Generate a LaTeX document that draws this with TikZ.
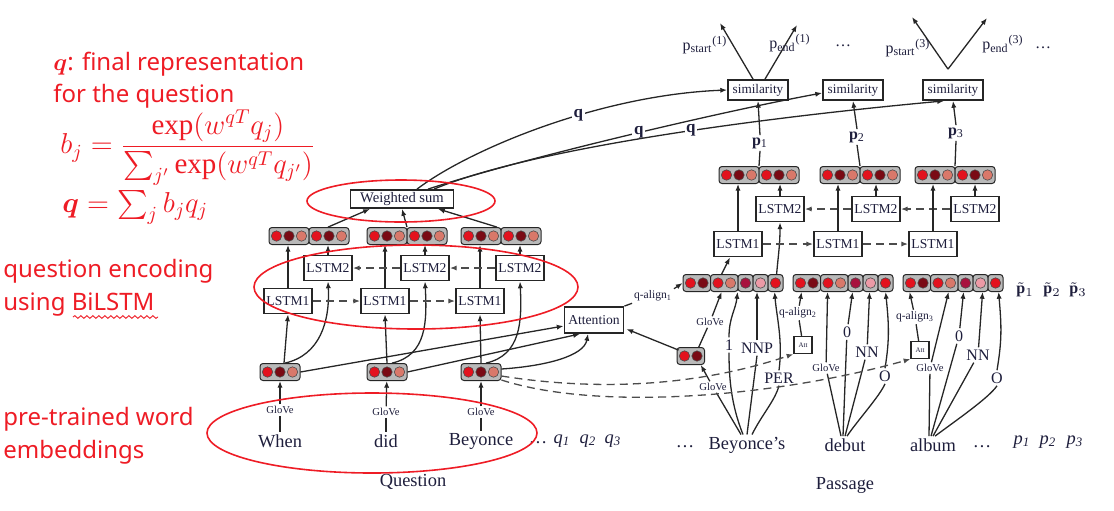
\documentclass[tikz,border=0pt]{standalone}
\usepackage{amsmath}
\usepackage{amssymb}
\usepackage{bm}
\usepackage{fontspec}
\setmainfont{Liberation Serif}
\newfontfamily\annfont{Noto Sans}
\usetikzlibrary{positioning}
\usetikzlibrary{calc}
\usetikzlibrary{fit}
\usetikzlibrary{arrows.meta}
\usetikzlibrary{decorations.pathmorphing}

\definecolor{cred}{HTML}{E3121E}
\definecolor{cdark}{HTML}{7A0A14}
\definecolor{csalm}{HTML}{D9786A}
\definecolor{ccrim}{HTML}{A8123E}
\definecolor{cpink}{HTML}{EC9AA6}
\definecolor{ink}{HTML}{1E1E3C}
\definecolor{annred}{HTML}{EE1C25}

% row of coloured cells: name, left x, centre y, frames
\newcommand{\cellrow}[4]{%
  \xdef\xcur{#2}%
  \foreach \frm in {#4}{%
    \xdef\nc{0}%
    \foreach \clr in \frm {\pgfmathtruncatemacro\ncn{\nc+1}\xdef\nc{\ncn}}%
    \pgfmathsetmacro\xb{\xcur+\nc*12.5+2.5}%
    \path[cellframe] (\xcur,#3-8.5) rectangle (\xb,#3+8.5);
    \foreach \clr [count=\i] in \frm {%
      \path[cell, fill=\clr] ({\xcur+1.25+(\i-0.5)*12.5},#3) circle (5.2);}%
    \xdef\xcur{\xb}%
  }%
  \node[fit={(#2,#3-8.5) (\xcur,#3+8.5)}, inner sep=0pt] (#1) {};%
}

\begin{document}
\begin{tikzpicture}[x=0.5pt, y=-0.5pt,
    >={Latex[length=3.4pt,width=2.6pt]},
    lnk/.style={draw=black!85, line width=0.65pt},
    dsh/.style={lnk, draw=black!70, dash pattern=on 4pt off 2.6pt},
    cellframe/.style={draw=black!85, fill=gray!55, line width=0.5pt, rounded corners=1.5pt},
    cell/.style={draw=black!70, line width=0.3pt},
    box/.style={draw=black!85, line width=0.9pt, fill=white, inner sep=1pt, text=ink},
    lstm/.style={box, minimum width=24pt, minimum height=12.5pt, font=\fontsize{6.8}{7}\selectfont},
    simbox/.style={box, minimum width=30pt, minimum height=10pt, font=\fontsize{6.6}{7}\selectfont},
    attbox/.style={box, line width=0.6pt, minimum width=9pt, minimum height=8.5pt, inner sep=0.5pt, font=\fontsize{3.5}{4}\selectfont},
    wordlab/.style={inner sep=1pt, text=ink, font=\fontsize{9.2}{10}\selectfont},
    glovelab/.style={inner sep=0.8pt, fill=white, text=ink, font=\fontsize{5.3}{6}\selectfont},
    alignlab/.style={inner sep=0.8pt, text=ink, font=\fontsize{5.8}{6}\selectfont},
    featlab/.style={inner sep=1pt, fill=white, text=ink, font=\fontsize{8}{9}\selectfont},
    plab/.style={inner sep=1pt, text=ink, font=\fontsize{8}{9}\selectfont},
    qlab/.style={inner sep=0.8pt, fill=white, text=ink, font=\fontsize{8.5}{9}\selectfont\bfseries},
    ann/.style={inner sep=0pt, text=annred, font=\annfont\fontsize{12}{14}\selectfont},
    annmath/.style={inner sep=0pt, text=annred, font=\fontsize{14.5}{16}\selectfont},
    ring/.style={draw=annred, line width=0.8pt}]

    \useasboundingbox (0,0) rectangle (1114,510);

    % red notes on the left
    \node[ann, anchor=base west] (ann1) at (53,70) {$\bm{q}$: final representation};
    \node[ann, anchor=base west] (ann2) at (53,102) {for the question};
    \node[annmath, anchor=west] (eqb) at (60,148) {$b_j=\dfrac{\exp(w^{qT}q_j)}{\sum_{j'}\exp(w^{qT}q_{j'})}$};
    \node[annmath, anchor=base west] (eqq) at (62,212) {$\bm{q}=\sum_j b_j q_j$};
    \node[ann, anchor=base west] (ann3) at (3,277) {question encoding};
    \node[ann, anchor=base west] (ann4) at (3,310) {using BiLSTM};
    \draw[annred, line width=0.45pt, decorate, decoration={snake, amplitude=0.7pt, segment length=3pt}] (73,317) -- (158,317);
    \node[ann, anchor=base west] (ann5) at (3,425) {pre-trained word};
    \node[ann, anchor=base west] (ann6) at (3,458) {embeddings};

    % question side
    \node[wordlab] (qw1) at (280,441) {When};
    \node[wordlab] (qw2) at (386,441) {did};
    \node[wordlab] (qw3) at (481,441) {Beyonce};
    \node[wordlab] (qdots) at (538,443) {\dots};
    \node[wordlab] (qq1) at (562,441) {\textit{q}\textsubscript{\textit{1}}};
    \node[wordlab] (qq2) at (588,441) {\textit{q}\textsubscript{\textit{2}}};
    \node[wordlab] (qq3) at (613,441) {\textit{q}\textsubscript{\textit{3}}};
    \node[wordlab] (qcap) at (413,482) {Question};

    \node[glovelab] (qg1) at (280,410) {GloVe};
    \node[glovelab] (qg2) at (386,412) {GloVe};
    \node[glovelab] (qg3) at (481,412) {GloVe};

    \cellrow{qe1}{260}{372}{{cred,cdark,csalm}}
    \cellrow{qe2}{367}{372}{{cred,cdark,csalm}}
    \cellrow{qe3}{461}{372}{{cred,cdark,csalm}}

    \node[lstm] (qf1) at (288,301) {LSTM1};
    \node[lstm] (qf2) at (385,301) {LSTM1};
    \node[lstm] (qf3) at (480,301) {LSTM1};
    \node[lstm] (qb1) at (328,268) {LSTM2};
    \node[lstm] (qb2) at (425,268) {LSTM2};
    \node[lstm] (qb3) at (520,268) {LSTM2};

    \cellrow{qo1}{269}{236}{{cred,cdark,csalm},{cred,cdark,csalm}}
    \cellrow{qo2}{367}{236}{{cred,cdark,csalm},{cred,cdark,csalm}}
    \cellrow{qo3}{461}{236}{{cred,cdark,csalm},{cred,cdark,csalm}}

    \node[box, minimum width=51.5pt, minimum height=9pt, font=\fontsize{7.3}{8}\selectfont] (ws) at (402,199) {Weighted sum};
    \node[box, minimum width=29.5pt, minimum height=13pt, font=\fontsize{6.8}{7}\selectfont] (att) at (594,320) {Attention};

    \foreach \n in {1,2,3} {
        \draw[lnk] (qg\n) -- (qw\n);
        \draw[lnk,->] (qg\n) -- (qe\n);
        \draw[lnk,->] (qf\n.north) -- (qf\n.north |- qo\n.south);
        \draw[lnk,->] (qb\n.north) -- (qb\n.north |- qo\n.south);
        \draw[lnk,->] ($(qe\n.north)+(5,0)$) .. controls +(35,-8) and +(2,40) .. (qb\n.south);
    }
    \draw[lnk,->] ($(qe1.north)+(4,0)$) -- (qf1.south);
    \draw[lnk,->] (qe2.north) -- (qf2.south);
    \draw[lnk,->] (qe3.north) -- (qf3.south);

    \draw[dsh,->] (qf1) -- (qf2);
    \draw[dsh,->] (qf2) -- (qf3);
    \draw[dsh,->] (qb3) -- (qb2);
    \draw[dsh,->] (qb2) -- (qb1);

    \draw[lnk,->] ($(qo1.north)+(19,0)$) -- ($(ws.south)+(-32,0)$);
    \draw[lnk,->] (qo2.north) -- (ws.south);
    \draw[lnk,->] ($(qo3.north)+(-4,0)$) -- ($(ws.south)+(36,0)$);

    \draw[lnk,->] (qe1.east) -- ($(att.west)+(0,6)$);
    \draw[lnk,->] (qe2.east) -- ($(att.south)+(-14,0)$);
    \draw[lnk,->] ($(qe3.east)+(0,-3)$) .. controls +(45,-3) and +(-4,22) .. ($(att.south)+(-6,0)$);

    % passage side
    \node[wordlab] (pdots0) at (685,447) {\dots};
    \node[wordlab] (pw1) at (747,445) {Beyonce's};
    \node[wordlab] (pw2) at (845,445) {debut};
    \node[wordlab] (pw3) at (933,445) {album};
    \node[wordlab] (pdots1) at (982,447) {\dots};
    \node[wordlab] (pp1) at (1022,442) {\textit{p}\textsubscript{\textit{1}}};
    \node[wordlab] (pp2) at (1048,442) {\textit{p}\textsubscript{\textit{2}}};
    \node[wordlab] (pp3) at (1075,442) {\textit{p}\textsubscript{\textit{3}}};
    \node[wordlab] (pcap) at (845,485) {Passage};

    \cellrow{pe}{677}{356}{{cred,cdark}}
    \cellrow{pv1}{683}{283}{{cred,cdark},{cred,csalm},{ccrim},{cpink},{cred}}
    \cellrow{pv2}{793}{283}{{cred,cdark},{cred,csalm},{ccrim},{cpink},{cred}}
    \cellrow{pv3}{903}{283}{{cred,cdark},{cred,csalm},{ccrim},{cpink},{cred}}

    \node[plab] (pt1) at (1025,290) {$\tilde{\mathbf{p}}_1$};
    \node[plab] (pt2) at (1052,290) {$\tilde{\mathbf{p}}_2$};
    \node[plab] (pt3) at (1078,290) {$\tilde{\mathbf{p}}_3$};

    \draw[lnk,->] ($(pe.north west)+(2,3)$) -- ($(att.east)+(2,9)$);
    \node[alignlab] (qa1) at (653,296) {q-align\textsubscript{1}};
    \draw[lnk] (att.north east) -- (qa1.south west);
    \draw[lnk,->] (qa1.north east) -- (pv1.west);

    % Beyonce's
    \node[glovelab] (bg1) at (713,387) {GloVe};
    \draw[lnk] ($(pw1.north)+(-6,0)$) -- (bg1);
    \draw[lnk,->] (bg1) -- ($(pe.south)+(10,0)$);
    \node[glovelab] (bg2) at (710,322) {GloVe};
    \draw[lnk] ($(pe.north)+(8,0)$) -- (bg2);
    \draw[lnk,->] (bg2) -- ($(pv1.south west)+(39,0)$);
    \node[featlab] (b1) at (729,345) {1};
    \draw[lnk] ($(pw1.north)+(-4,0)$) .. controls +(-12,-30) and +(0,25) .. (b1.south);
    \draw[lnk,->] (b1.north) .. controls +(0,-20) and +(-2,18) .. ($(pv1.south west)+(55,0)$);
    \node[featlab] (bn) at (757,348) {NNP};
    \draw[lnk] (pw1.north) -- (bn.south);
    \draw[lnk,->] (bn.north) -- (bn.north |- pv1.south);
    \node[featlab] (bp) at (779,378) {PER};
    \draw[lnk] ($(pw1.north)+(5,0)$) .. controls +(10,-20) and +(-4,15) .. (bp.south);
    \draw[lnk,->] (bp.north) .. controls +(4,-30) and +(2,25) .. ($(pv1.south west)+(92,0)$);

    % debut
    \node[glovelab] (dg) at (826,368) {GloVe};
    \draw[lnk] ($(pw2.north)+(-4,0)$) -- (dg);
    \draw[lnk,->] (dg) -- ($(pv2.south west)+(35,0)$);
    \node[featlab] (d0) at (847,332) {0};
    \draw[lnk] ($(pw2.north)+(-2,0)$) -- (d0);
    \draw[lnk,->] (d0) -- ($(pv2.south west)+(60,0)$);
    \node[featlab] (dn) at (867,352) {NN};
    \draw[lnk] (pw2.north) -- (dn);
    \draw[lnk,->] (dn) -- ($(pv2.south west)+(77,0)$);
    \node[featlab] (dO) at (885,376) {O};
    \draw[lnk] ($(pw2.north)+(2,0)$) .. controls +(10,-15) and +(-5,12) .. (dO.south);
    \draw[lnk,->] (dO.north) .. controls +(5,-30) and +(3,30) .. ($(pv2.south west)+(93,0)$);

    % album
    \node[glovelab] (ag) at (930,368) {GloVe};
    \draw[lnk] ($(pw3.north)+(-4,0)$) -- (ag);
    \draw[lnk,->] (ag) -- ($(pv3.south west)+(46,0)$);
    \node[featlab] (a0) at (959,336) {0};
    \draw[lnk] ($(pw3.north)+(-2,0)$) -- (a0);
    \draw[lnk,->] (a0) -- ($(pv3.south west)+(61,0)$);
    \node[featlab] (an) at (978,355) {NN};
    \draw[lnk] (pw3.north) -- (an);
    \draw[lnk,->] (an) -- ($(pv3.south west)+(80,0)$);
    \node[featlab] (aO) at (997,378) {O};
    \draw[lnk] ($(pw3.north)+(2,0)$) .. controls +(20,-15) and +(-8,12) .. (aO.south);
    \draw[lnk,->] (aO.north) .. controls +(5,-30) and +(3,35) .. ($(pv3.south west)+(96,0)$);

    % q-align boxes
    \node[attbox] (att2) at (803,345) {Att};
    \node[alignlab] (qa2) at (798,313) {q-align\textsubscript{2}};
    \draw[lnk] (att2) -- (qa2);
    \draw[lnk,->] (qa2) -- ($(pv2.south west)+(9,0)$);
    \node[attbox] (att3) at (920,350) {Att};
    \node[alignlab] (qa3) at (915,317) {q-align\textsubscript{3}};
    \draw[lnk] (att3) -- (qa3);
    \draw[lnk,->] (qa3) -- ($(pv3.south west)+(7,0)$);
    \draw[dsh,->] ($(qe3.east)+(0,4)$) .. controls +(120,19) and +(-74,25) .. (att2.south west);
    \draw[dsh,->] ($(qe3.east)+(0,8)$) .. controls +(100,32) and +(-131,37) .. (att3.south west);

    % passage BiLSTM
    \node[lstm] (pf1) at (738,244) {LSTM1};
    \node[lstm] (pf2) at (838,244) {LSTM1};
    \node[lstm] (pf3) at (933,244) {LSTM1};
    \node[lstm] (pb1) at (780,209) {LSTM2};
    \node[lstm] (pb2) at (876,209) {LSTM2};
    \node[lstm] (pb3) at (975,209) {LSTM2};
    \cellrow{po1}{719}{175}{{cred,cdark,csalm},{cred,cdark,csalm}}
    \cellrow{po2}{820}{175}{{cred,cdark,csalm},{cred,cdark,csalm}}
    \cellrow{po3}{915}{175}{{cred,cdark,csalm},{cred,cdark,csalm}}

    \draw[lnk,->] ($(pv1.north west)+(39,0)$) -- ($(pf1.south)+(-8,0)$);
    \draw[lnk,->] ($(pv1.north west)+(94,0)$) .. controls +(2,-22) and +(0,22) .. (pb1.south);
    \draw[dsh,->] (pf1) -- (pf2);
    \draw[dsh,->] (pf2) -- (pf3);
    \draw[dsh,->] (pb3) -- (pb2);
    \draw[dsh,->] (pb2) -- (pb1);

    \node[plab] (pl1) at (760,143) {\textbf{p}\textsubscript{1}};
    \node[plab] (pl2) at (857,137) {\textbf{p}\textsubscript{2}};
    \node[plab] (pl3) at (956,133) {\textbf{p}\textsubscript{3}};
    \node[simbox] (sim1) at (758,90) {similarity};
    \node[simbox] (sim2) at (853,90) {similarity};
    \node[simbox] (sim3) at (953,90) {similarity};

    \foreach \n in {1,2,3} {
        \draw[lnk,->] (pf\n.north) -- (pf\n.north |- po\n.south);
        \draw[lnk,->] (pb\n.north) -- (pb\n.north |- po\n.south);
        \draw[lnk] (po\n.north) -- (pl\n.south);
        \draw[lnk,->] (pl\n.north) -- (sim\n.south);
    }

    % question vector to similarity
    \draw[lnk,->] ($(ws.north)+(15,0)$) .. controls +(53,-40) and +(-127,5) .. (sim1.west) node[qlab, pos=0.6] {q};
    \draw[lnk,->] ($(ws.north)+(26,0)$) .. controls +(92,-30) and +(-103,19) .. ($(sim2.west)+(0,3)$) node[qlab, pos=0.54] {q};
    \draw[lnk,->] ($(ws.north)+(32,0)$) .. controls +(96,-40) and +(-195,18) .. ($(sim3.south west)+(22,0)$) node[qlab, pos=0.57] {q};

    % outputs
    \coordinate (st1) at (720,23);
    \coordinate (en1) at (797,25);
    \draw[lnk,->] ($(sim1.north)+(-5,0)$) -- (st1);
    \draw[lnk,->] ($(sim1.north)+(7,0)$) -- (en1);
    \coordinate (v3) at ($(sim3.north)+(-5,-10)$);
    \coordinate (st3) at (912,17);
    \coordinate (en3) at (987,18);
    \draw[lnk,->] (v3) -- (st3);
    \draw[lnk,->] (v3) -- (en3);
    \node[plab] (st1l) at (705,45) {p\textsubscript{start}\textsuperscript{(1)}};
    \node[plab] (en1l) at (790,43) {p\textsubscript{end}\textsuperscript{(1)}};
    \node[plab] (odots1) at (843,46) {\dots};
    \node[plab] (st3l) at (908,48) {p\textsubscript{start}\textsuperscript{(3)}};
    \node[plab] (en3l) at (1003,44) {p\textsubscript{end}\textsuperscript{(3)}};
    \node[plab] (odots3) at (1043,48) {\dots};

    % red rings
    \draw[ring] (401,201) ellipse [x radius=94, y radius=21];
    \draw[ring] (416,287) ellipse [x radius=162, y radius=42];
    \draw[ring] (372,433) ellipse [x radius=165, y radius=40];
\end{tikzpicture}
\end{document}
